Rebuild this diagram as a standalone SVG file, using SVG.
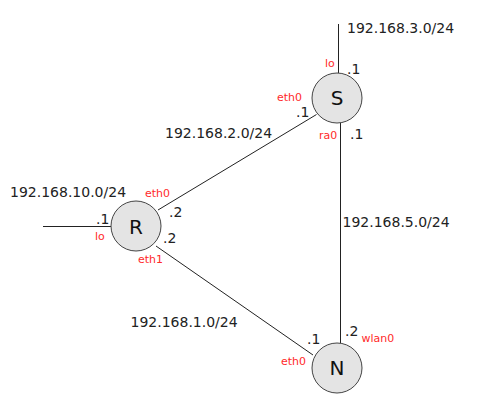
<svg xmlns="http://www.w3.org/2000/svg" width="499" height="417" viewBox="0 0 499 417">
<style>
.net{font-family:"DejaVu Sans",sans-serif;font-size:14px;fill:#222}
.ifc{font-family:"DejaVu Sans",sans-serif;font-size:11px;fill:#ff2a2a}
.lbl{font-family:"DejaVu Sans",sans-serif;font-size:20px;fill:#111;text-anchor:middle}
.node{fill:#e4e4e4;stroke:#444;stroke-width:1}
.link{stroke:#222;stroke-width:1;fill:none}
</style>
<rect width="499" height="417" fill="#fff"/>
<g id="connectors">
<line class="link" x1="338.5" y1="24" x2="338.5" y2="73"/>
<line class="link" x1="340.5" y1="123" x2="340.5" y2="343"/>
<line class="link" x1="43" y1="226.5" x2="111" y2="226.5"/>
<line class="link" x1="316.5" y1="114.5" x2="158" y2="210"/>
<line class="link" x1="156" y1="246" x2="313" y2="355"/>
</g>
<g id="labels">
<text class="net" x="347" y="33">192.168.3.0/24</text>
<text class="net" x="165" y="138">192.168.2.0/24</text>
<text class="net" x="10" y="197">192.168.10.0/24</text>
<text class="net" x="342.5" y="226.5">192.168.5.0/24</text>
<text class="net" x="130.5" y="326.5">192.168.1.0/24</text>
</g>
<g id="node-S">
<circle class="node" cx="337" cy="98" r="25"/>
<text class="lbl" x="337" y="105">S</text>
<text class="ifc" x="325" y="67">lo</text>
<text class="net" x="347" y="74">.1</text>
<text class="ifc" x="277" y="101">eth0</text>
<text class="net" x="296" y="117">.1</text>
<text class="ifc" x="319" y="139">ra0</text>
<text class="net" x="350" y="139">.1</text>
</g>
<g id="node-R">
<circle class="node" cx="136" cy="226" r="25"/>
<text class="lbl" x="136" y="234">R</text>
<text class="ifc" x="145" y="197">eth0</text>
<text class="net" x="96" y="224">.1</text>
<text class="ifc" x="95" y="240">lo</text>
<text class="net" x="169" y="217">.2</text>
<text class="net" x="163" y="243">.2</text>
<text class="ifc" x="138" y="263">eth1</text>
</g>
<g id="node-N">
<circle class="node" cx="337" cy="368" r="25"/>
<text class="lbl" x="337" y="375">N</text>
<text class="net" x="307" y="344">.1</text>
<text class="net" x="345" y="336">.2</text>
<text class="ifc" x="361.5" y="342">wlan0</text>
<text class="ifc" x="281" y="365">eth0</text>
</g>
</svg>
